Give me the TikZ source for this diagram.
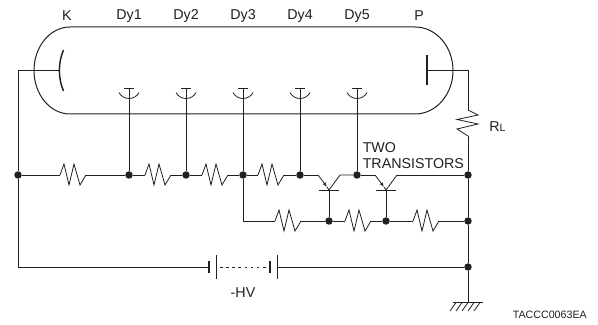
\documentclass[tikz,border=0pt]{standalone}
\usepackage{fontspec}
\setmainfont{Liberation Sans}
\usetikzlibrary{arrows.meta}
\definecolor{ink}{RGB}{35,31,32}
\tikzset{
  x=0.75pt,y=-0.75pt,
  wire/.style={draw=ink,line width=0.75pt,line join=miter},
  thin wire/.style={draw=ink,line width=0.6pt},
  dot/.style={circle,fill=ink,inner sep=0pt,minimum size=5.6pt},
  lbl/.style={text=ink,font=\fontsize{10.7pt}{12pt}\selectfont,inner sep=0pt},
  small lbl/.style={text=ink,font=\fontsize{8pt}{10pt}\selectfont,inner sep=0pt},
  res/.pic={\draw[thin wire] (0,0) -- (4,-11) -- (9,10) -- (14,-11) -- (20,10) -- (26,0);},
}
\begin{document}
\begin{tikzpicture}
\useasboundingbox (0,0) rectangle (598,324);
% tube
\draw[wire] (70,27) -- (415,27) arc[start angle=-90,end angle=90,x radius=38,y radius=43.5] -- (70,114) arc[start angle=90,end angle=270,x radius=36,y radius=43.5];
% nodes
\foreach \n/\x/\y in {m0/18/175,m1/129/175,m2/186/175,m3/243/175,m4/300/175,m5/357/175,m6/468/175,
  b1/329/221,b2/386/221,b3/468/221,g/468/267}
  \node[dot] (\n) at (\x,\y) {};
\coordinate (kc) at (59,70.5);
\coordinate (kt) at (18,70.5);
\coordinate (pa) at (427,70.5);
\coordinate (pt) at (468,70.5);
\coordinate (b0) at (243,221);
% cathode and anode
\draw[line width=1.1pt,ink] (63.5,50) .. controls (58,63) and (58,78) .. (63.5,91);
\draw[line width=1.1pt,ink] (pa)++(0,-15) -- ++(0,30);
\draw[wire] (kc) -- (kt) -- (m0);
\draw[wire] (m0) -- (18,267) coordinate (bl);
\draw[wire] (pa) -- (pt) -- (468,110);
% dynodes
\foreach \n/\x in {m1/129,m2/186,m3/243,m4/300,m5/357}{
  \draw[wire] (\x-5,88.5) -- (\x+5,88.5);
  \draw[wire] (\x,88.5) -- (\n);
  \draw[thin wire] (\x-10,92.5) .. controls (\x-6,100.5) and (\x+6,100.5) .. (\x+10,92.5);
}
% resistors on main line
\draw[wire] (m0) -- (60,175); \path (60,175) pic {res}; \draw[wire] (86,175) -- (m1);
\draw[wire] (m1) -- (145,175); \path (145,175) pic {res}; \draw[wire] (171,175) -- (m2);
\draw[wire] (m2) -- (202,175); \path (202,175) pic {res}; \draw[wire] (228,175) -- (m3);
\draw[wire] (m3) -- (258,175); \path (258,175) pic {res}; \draw[wire] (284,175) -- (m4);
% transistors
\draw[wire] (m4) -- (318,175);
\draw[thin wire,-{Latex[length=3.5pt,width=2.5pt]}] (318,175) -- (327,187);
\draw[thin wire] (327,187) -- (329,190) -- (340,175) -- (m5);
\draw[wire] (m5) -- (375,175);
\draw[thin wire,-{Latex[length=3.5pt,width=2.5pt]}] (375,175) -- (384,187);
\draw[thin wire] (384,187) -- (386,190) -- (397,175);
\draw[wire] (397,175) -- (m6);
\draw[wire] (319,190) -- (339,190);
\draw[wire] (376,190) -- (396,190);
\draw[wire] (329,190) -- (b1);
\draw[wire] (386,190) -- (b2);
% lower line
\draw[wire] (m3) -- (b0) -- (275,221); \path (275,221) pic {res}; \draw[wire] (301,221) -- (b1);
\draw[wire] (b1) -- (345,221); \path (345,221) pic {res}; \draw[wire] (371,221) -- (b2);
\draw[wire] (b2) -- (413,221); \path (413,221) pic {res}; \draw[wire] (439,221) -- (b3);
% right rail
\draw[thin wire] (468,110) -- (478,115) -- (457,119.5) -- (478,124) -- (457,129) -- (468,136);
\draw[wire] (468,136) -- (m6) -- (b3) -- (g) -- (468,302) coordinate (gnd);
% battery
\draw[wire] (bl) -- (209,267);
\draw[line width=1.2pt,ink] (209,261) -- (209,273);
\draw[thin wire] (216.5,255) -- (216.5,279);
\draw[thin wire,dash pattern=on 2pt off 2.6pt] (220,267) -- (268,267);
\draw[line width=1.2pt,ink] (270,261) -- (270,273);
\draw[thin wire] (277.5,255) -- (277.5,279);
\draw[wire] (277.5,267) -- (g);
% ground
\draw[wire] (453,302) -- (483,302);
\foreach \x in {456,462,468,474,480}
  \draw[thin wire] (\x,302.5) -- (\x-6,311);
% labels
\node[lbl] (tk) at (67,16) {K};
\node[lbl] (t1) at (129,16) {Dy1};
\node[lbl] (t2) at (186,16) {Dy2};
\node[lbl] (t3) at (243,16) {Dy3};
\node[lbl] (t4) at (300,16) {Dy4};
\node[lbl] (t5) at (357,16) {Dy5};
\node[lbl] (tp) at (419,16) {P};
\node[lbl,anchor=base west] (trl) at (489,131) {R{\fontsize{8pt}{10pt}\selectfont L}};
\node[lbl,anchor=base west] (two) at (362.5,152) {TWO};
\node[lbl,anchor=base west] (trs) at (362.5,168) {TRANSISTORS};
\node[lbl] (hv) at (243,293) {-HV};
\node[small lbl,anchor=east] (code) at (587,315) {TACCC0063EA};
\end{tikzpicture}
\end{document}
